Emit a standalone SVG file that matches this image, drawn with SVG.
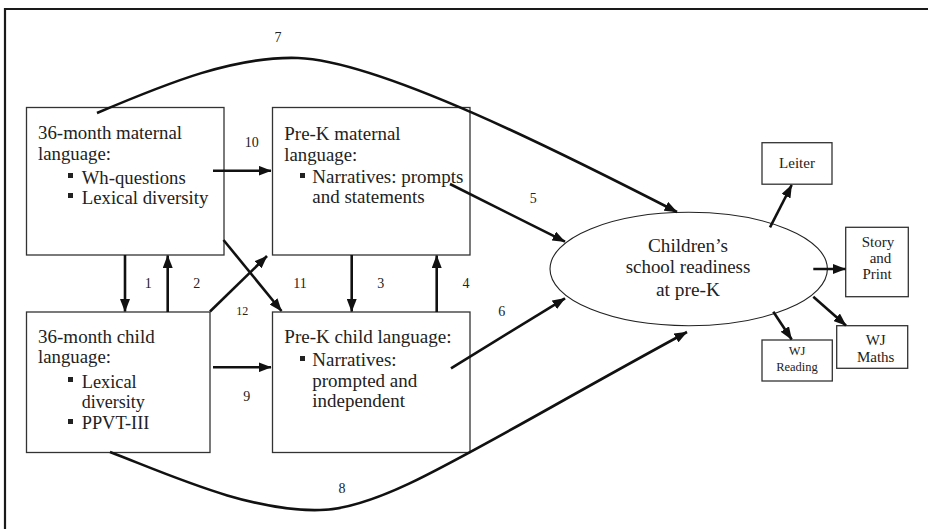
<svg xmlns="http://www.w3.org/2000/svg" width="928" height="529" viewBox="0 0 928 529" font-family="Liberation Serif">
<style>
  text { fill: #222; }
  .bx { fill: #fff; stroke: #333; stroke-width: 1.3; }
  .t { font-size: 18px; }
  .s { font-size: 15px; }
  .lbl { font-size: 14px; text-anchor: middle; }
  .c { text-anchor: middle; }
  .ar { fill: none; stroke: #111; stroke-width: 2.6; marker-end: url(#ah); }
  .bul { fill: #222; }
</style>
<defs>
  <marker id="ah" viewBox="0 0 13 10" refX="12.5" refY="5" markerWidth="13" markerHeight="10" markerUnits="userSpaceOnUse" orient="auto">
    <path d="M0,0 L13,5 L0,10 Z" fill="#111"/>
  </marker>
</defs>
<rect x="0" y="0" width="928" height="529" fill="#fff"/>
<path d="M5,529 V9 H928" fill="none" stroke="#1a1a1a" stroke-width="2.2"/>

<g id="n-mat36">
  <rect class="bx" x="26.5" y="107.5" width="197.5" height="147.5"/>
  <text class="t" x="38" y="139" textLength="144" lengthAdjust="spacingAndGlyphs">36-month maternal</text>
  <text class="t" x="38" y="160" textLength="73" lengthAdjust="spacingAndGlyphs">language:</text>
  <rect class="bul" x="68" y="173" width="5" height="5"/>
  <text class="t" x="81.7" y="184" textLength="104" lengthAdjust="spacingAndGlyphs">Wh-questions</text>
  <rect class="bul" x="68" y="193" width="5" height="5"/>
  <text class="t" x="81.7" y="203.5" textLength="126.7" lengthAdjust="spacingAndGlyphs">Lexical diversity</text>
</g>

<g id="n-matpk">
  <rect class="bx" x="272.5" y="107.5" width="197.5" height="147.5"/>
  <text class="t" x="284.3" y="140" textLength="116.3" lengthAdjust="spacingAndGlyphs">Pre-K maternal</text>
  <text class="t" x="284.3" y="160.5" textLength="73" lengthAdjust="spacingAndGlyphs">language:</text>
  <rect class="bul" x="300" y="173" width="5" height="5"/>
  <text class="t" x="312.3" y="183.3" textLength="151" lengthAdjust="spacingAndGlyphs">Narratives: prompts</text>
  <text class="t" x="312.3" y="202.7" textLength="112.3" lengthAdjust="spacingAndGlyphs">and statements</text>
</g>

<g id="n-child36">
  <rect class="bx" x="26.5" y="312" width="183.5" height="140.5"/>
  <text class="t" x="38" y="343.3" textLength="116.7" lengthAdjust="spacingAndGlyphs">36-month child</text>
  <text class="t" x="38" y="363.3" textLength="73" lengthAdjust="spacingAndGlyphs">language:</text>
  <rect class="bul" x="68" y="377" width="5" height="5"/>
  <text class="t" x="81.7" y="388.3" textLength="55" lengthAdjust="spacingAndGlyphs">Lexical</text>
  <text class="t" x="81.7" y="407.7" textLength="63" lengthAdjust="spacingAndGlyphs">diversity</text>
  <rect class="bul" x="68" y="419" width="5" height="5"/>
  <text class="t" x="81.7" y="429.3" textLength="67.7" lengthAdjust="spacingAndGlyphs">PPVT-III</text>
</g>

<g id="n-childpk">
  <rect class="bx" x="272.5" y="312" width="197.5" height="140.5"/>
  <text class="t" x="284.3" y="343.3" textLength="167.3" lengthAdjust="spacingAndGlyphs">Pre-K child language:</text>
  <rect class="bul" x="300" y="356" width="5" height="5"/>
  <text class="t" x="312.3" y="366" textLength="84.3" lengthAdjust="spacingAndGlyphs">Narratives:</text>
  <text class="t" x="312.3" y="386.7" textLength="105" lengthAdjust="spacingAndGlyphs">prompted and</text>
  <text class="t" x="312.3" y="407.3" textLength="92.7" lengthAdjust="spacingAndGlyphs">independent</text>
</g>

<g id="n-readiness">
  <ellipse cx="688.7" cy="269" rx="138.7" ry="56.7" fill="#fff" stroke="#222" stroke-width="1.1"/>
  <text class="t c" x="688" y="251.7" textLength="80" lengthAdjust="spacingAndGlyphs">Children’s</text>
  <text class="t c" x="688" y="273.3" textLength="124.7" lengthAdjust="spacingAndGlyphs">school readiness</text>
  <text class="t c" x="688" y="295.7" textLength="64" lengthAdjust="spacingAndGlyphs">at pre-K</text>
</g>

<g id="n-leiter">
  <rect class="bx" x="762" y="142.7" width="70" height="41.5"/>
  <text class="s c" x="797" y="168.3">Leiter</text>
</g>

<g id="n-story">
  <rect class="bx" x="845.7" y="227.3" width="62.6" height="69.4"/>
  <text class="s c" x="878" y="246.7">Story</text>
  <text class="s c" x="880.5" y="262.7">and</text>
  <text class="s c" x="877" y="279">Print</text>
</g>

<g id="n-wjread">
  <rect class="bx" x="762" y="340" width="70.3" height="41"/>
  <text class="c" style="font-size:12.5px" x="797" y="355">WJ</text>
  <text class="c" style="font-size:12.5px" x="797" y="371">Reading</text>
</g>

<g id="n-wjmath">
  <rect class="bx" x="836.7" y="325.7" width="71" height="42.6"/>
  <text class="s c" x="875.7" y="345">WJ</text>
  <text class="s c" x="875.7" y="361.7">Maths</text>
</g>

<g id="connectors">
  <path class="ar" d="M97,113 C170,82 235,56 298,58 C380,61 560,152 677,212"/>
  <path class="ar" d="M110,452 C170,475 250,512 320,510 C385,509 470,450 687,332"/>
  <path class="ar" d="M213,170.7 L271,170.7"/>
  <path class="ar" d="M213,367.3 L271,367.3"/>
  <path class="ar" d="M125,255 L125,311.5"/>
  <path class="ar" d="M167.7,312 L167.7,255.5"/>
  <path class="ar" d="M351.7,255 L351.7,311.5"/>
  <path class="ar" d="M436.7,312 L436.7,255.5"/>
  <path class="ar" d="M223.5,240 L281.5,311"/>
  <path class="ar" d="M210,311.5 L267,256"/>
  <path class="ar" d="M450,184 L565,241.7"/>
  <path class="ar" d="M451,368.3 L565,298.3"/>
  <path class="ar" d="M770,227.3 L791.7,185"/>
  <path class="ar" d="M813.3,269 L845.5,269"/>
  <path class="ar" d="M773.3,311.7 L791.7,339.5"/>
  <path class="ar" d="M813.3,296.7 L846,325.5"/>

  <text class="lbl" x="278" y="41.5">7</text>
  <text class="lbl" x="251.7" y="146.7">10</text>
  <text class="lbl" x="533.3" y="203.3">5</text>
  <text class="lbl" x="148.3" y="288.3">1</text>
  <text class="lbl" x="196.7" y="288.3">2</text>
  <text class="lbl" x="300" y="288.3">11</text>
  <text class="lbl" x="380.7" y="288.3">3</text>
  <text class="lbl" x="466" y="288.3">4</text>
  <text class="lbl" style="font-size:12px" x="242.3" y="315">12</text>
  <text class="lbl" x="246.7" y="400.7">9</text>
  <text class="lbl" x="501.7" y="316">6</text>
  <text class="lbl" x="342" y="493.3">8</text>
</g>
</svg>
